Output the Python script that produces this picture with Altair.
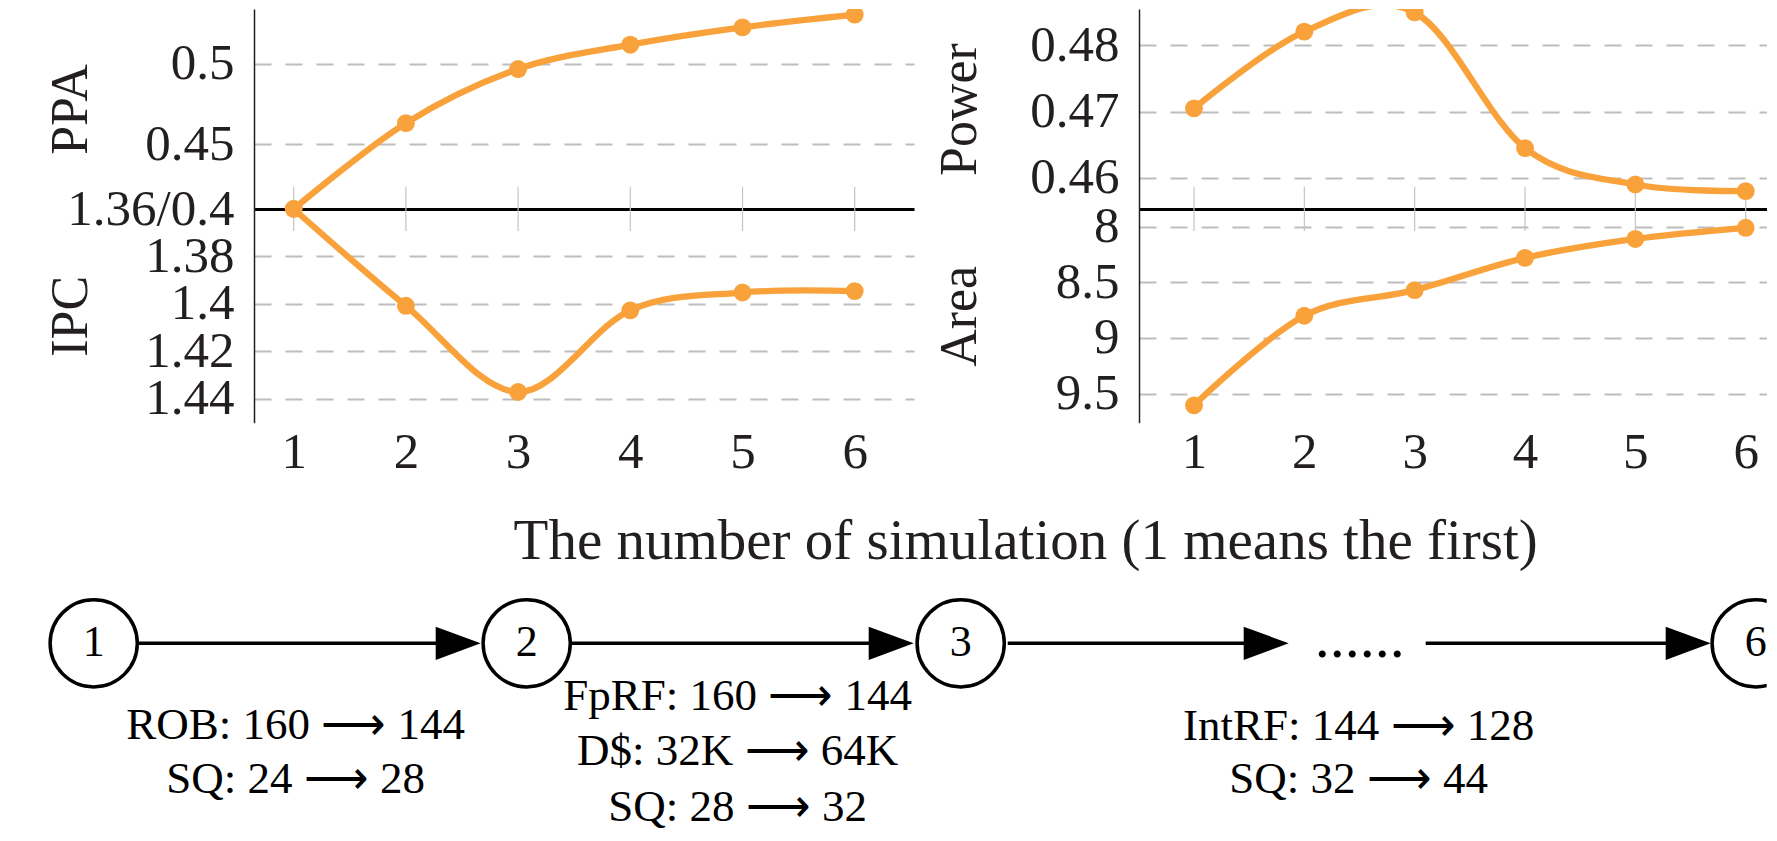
import altair as alt
import pandas as pd

# ---------------- data ----------------
simulation = [1, 2, 3, 4, 5, 6]
ppa = [0.410, 0.4632, 0.4967, 0.5118, 0.5225, 0.5304]
ipc = [1.360, 1.4008, 1.4371, 1.4027, 1.3952, 1.3946]
power = [0.4705, 0.4821, 0.4850, 0.4645, 0.4590, 0.4580]
area = [9.605, 8.80, 8.57, 8.28, 8.11, 8.01]

ppa_ticks = [0.45, 0.5]
ipc_ticks = [1.36, 1.38, 1.40, 1.42, 1.44]
power_ticks = [0.46, 0.47, 0.48]
area_ticks = [8, 8.5, 9, 9.5]

node_labels = ["1", "2", "3", "6"]
changes_1 = ["ROB: 160 ⟶ 144", "SQ: 24 ⟶ 28"]
changes_2 = ["FpRF: 160 ⟶ 144", "D$: 32K ⟶ 64K", "SQ: 28 ⟶ 32"]
changes_3 = ["IntRF: 144 ⟶ 128", "SQ: 32 ⟶ 44"]
x_title = "The number of simulation (1 means the first)"

# ---------------- layout / style ----------------
ORANGE = "#F9A23C"
FONT = "Liberation Serif"
TXT = "#231f20"
GRID = "#bdbdbd"

PAGE_TOP = 8            # plot tops start at the page margin
ZERO_Y = 208            # page y of the black zero line
BOTTOM_Y = 421.7        # page y of the lower axis end
DIAG_BOTTOM = 828
LEFT_PLOT_X = 253.3
LEFT_W = 660
RIGHT_PLOT_X = 1138.3
RIGHT_W = 1766 - RIGHT_PLOT_X
TOP_H = ZERO_Y - PAGE_TOP
BOT_H = BOTTOM_Y - ZERO_Y
DIAG_H = DIAG_BOTTOM - BOTTOM_Y


def panel(values, ticks, ydom, reverse, title, title_x, xdom, width, height,
          top, label_expr=None, grid_opacity=None, anchor=False):
    df = pd.DataFrame({"sim": simulation, "v": values})
    if top:
        xaxis = alt.Axis(orient="bottom", domain=True, domainColor="black",
                         domainWidth=3, labels=False, ticks=False, grid=False,
                         title=None)
    else:
        xaxis = alt.Axis(orient="bottom", domain=False, labels=True, ticks=False,
                         grid=False, title=None, values=simulation, format="d",
                         labelFont=FONT, labelFontSize=51, labelColor=TXT,
                         labelPadding=5, labelFlush=False)
    ykw = dict(values=ticks, format="~g", grid=True, gridDash=[17, 14],
               gridColor=GRID, gridWidth=2, domain=True, domainColor=TXT,
               domainWidth=1.5, ticks=False, labelPadding=20, labelFont=FONT,
               labelFontSize=51, labelColor=TXT, labelOverlap=False,
               labelFlush=False, title=title, titleFont=FONT, titleFontSize=52,
               titleFontWeight="normal", titleColor=TXT, titleX=title_x,
               titleBaseline="middle")
    if label_expr:
        ykw["labelExpr"] = label_expr
    if grid_opacity is not None:
        ykw["gridOpacity"] = grid_opacity
    xsc = alt.Scale(domain=xdom, nice=False, zero=False)
    xs = alt.X("sim:Q", scale=xsc, axis=xaxis)
    ys = alt.Y("v:Q", scale=alt.Scale(domain=ydom, nice=False, zero=False, reverse=reverse),
               axis=alt.Axis(**ykw))
    base = alt.Chart(df).encode(x=xs, y=ys)
    line = base.mark_line(interpolate="cardinal", color=ORANGE, strokeWidth=6.3, clip=top)
    pts = base.mark_circle(color=ORANGE, size=320, opacity=1, clip=top)
    layers = []
    if top:
        tick_rules = alt.Chart(df).mark_rule(color="#c4c4c4", strokeWidth=1.2).encode(
            x=alt.X("sim:Q", scale=xsc, axis=xaxis),
            y=alt.value(185.7 - PAGE_TOP), y2=alt.value(230 - PAGE_TOP))
        layers.append(tick_rules)
    layers += [line, pts]
    if anchor:
        anc = alt.Chart(df).mark_rule(color="white", strokeWidth=0.5).encode(
            x=alt.value(8 - LEFT_PLOT_X), x2=alt.value(9 - LEFT_PLOT_X),
            y=alt.value(0))
        layers.append(anc)
    return alt.layer(*layers).properties(width=width, height=height)


# x: simulation 1 -> page 293, 6 -> 854 (left); 1 -> 1193.3, 6 -> 1745 (right)
left_xdom = [1 - (293 - LEFT_PLOT_X) / 112.2, 6 + (LEFT_PLOT_X + LEFT_W - 854) / 112.2]
right_xdom = [1 - (1193.3 - RIGHT_PLOT_X) / 110.34, 6 + (RIGHT_PLOT_X + RIGHT_W - 1745) / 110.34]

ppa_chart = panel(ppa, ppa_ticks, [0.41, 0.41 + TOP_H / 1614], False, "PPA",
                  70 - LEFT_PLOT_X, left_xdom, LEFT_W, TOP_H, True, anchor=True)
ipc_chart = panel(ipc, ipc_ticks, [1.36, 1.36 + BOT_H / 2373], True, "IPC",
                  70 - LEFT_PLOT_X, left_xdom, LEFT_W, BOT_H, False,
                  label_expr="abs(datum.value - 1.36) < 1e-6 ? '1.36/0.4' : format(datum.value, '~g')",
                  grid_opacity=alt.condition("abs(datum.value - 1.36) < 1e-6",
                                             alt.value(0), alt.value(1)))
power_chart = panel(power, power_ticks, [0.4553, 0.4553 + TOP_H / 6620], False, "Power",
                    959 - RIGHT_PLOT_X, right_xdom, RIGHT_W, TOP_H, True)
area_chart = panel(area, area_ticks, [7.841, 7.841 + BOT_H / 111.3], True, "Area",
                   959 - RIGHT_PLOT_X, right_xdom, RIGHT_W, BOT_H, False)

# ---------------- flow diagram (coordinates in page units) ----------------
node_x = [93, 526, 960, 1755]
node_y = 642
arrow_from = [137, 571, 1007, 1425]
arrow_to = [480, 913, 1288, 1710]

note_text = changes_1 + changes_2 + changes_3
note_x = [295] * len(changes_1) + [737] * len(changes_2) + [1358] * len(changes_3)
note_y = [724, 778] + [695, 750, 806] + [725, 778]


def diagram_part(plot_x0, width, with_nodes, with_rest, clip):
    xsc = alt.Scale(domain=[plot_x0, plot_x0 + width], nice=False, zero=False)
    ysc = alt.Scale(domain=[BOTTOM_Y, DIAG_BOTTOM], nice=False, zero=False, reverse=True)

    def enc(ch):
        return ch.encode(x=alt.X("x:Q", scale=xsc, axis=None),
                         y=alt.Y("y:Q", scale=ysc, axis=None))

    nodes = pd.DataFrame({"label": [node_labels[i] for i in with_nodes],
                          "x": [node_x[i] for i in with_nodes],
                          "y": [node_y] * len(with_nodes)})
    layers = [
        enc(alt.Chart(nodes).mark_point(shape="circle", size=7600, filled=False,
                                        color="black", strokeWidth=3.5, opacity=1,
                                        clip=clip)),
        enc(alt.Chart(nodes).mark_text(font=FONT, fontSize=44, color="black",
                                       baseline="middle", align="center", clip=clip)
            ).encode(text="label:N"),
    ]
    if with_rest:
        arrows = pd.DataFrame({"x": arrow_from, "x2": [t - 30 for t in arrow_to],
                               "y": [node_y] * len(arrow_to)})
        heads = pd.DataFrame({"x": [t - 22.5 for t in arrow_to],
                              "y": [node_y] * len(arrow_to)})
        notes = pd.DataFrame({"t": note_text, "x": note_x, "y": note_y})
        title_df = pd.DataFrame({"t": [x_title], "x": [1025], "y": [558]})
        dots_df = pd.DataFrame({"t": ["......"], "x": [1359], "y": [656]})
        layers = [
            enc(alt.Chart(arrows).mark_rule(color="black", strokeWidth=3.5)).encode(x2="x2:Q"),
            enc(alt.Chart(heads).mark_point(shape="M-1,-0.74L1,0L-1,0.74Z", size=2025,
                                            filled=True, color="black", opacity=1)),
        ] + layers + [
            enc(alt.Chart(notes).mark_text(font=FONT, fontSize=45, color="black",
                                           baseline="middle", align="center")
                ).encode(text="t:N"),
            enc(alt.Chart(title_df).mark_text(font=FONT, fontSize=57, color=TXT,
                                              baseline="alphabetic", align="center")
                ).encode(text="t:N"),
            enc(alt.Chart(dots_df).mark_text(font=FONT, fontSize=60, color="black",
                                             baseline="alphabetic", align="center")
                ).encode(text="t:N"),
        ]
    return alt.layer(*layers).properties(width=width, height=DIAG_H)


diag_left = diagram_part(LEFT_PLOT_X, LEFT_W, [0, 1, 2], True, False)
diag_right = diagram_part(RIGHT_PLOT_X, RIGHT_W, [3], False, True)

chart = alt.concat(
    ppa_chart, power_chart, ipc_chart, area_chart, diag_left, diag_right,
    columns=2, spacing={"row": 0, "column": RIGHT_PLOT_X - LEFT_PLOT_X - LEFT_W},
    bounds="flush", align="each",
).properties(
    padding={"top": 0, "left": 0, "right": 0, "bottom": 0},
    background="white",
).configure_view(stroke=None)

chart.save("out.html", embed_options={"renderer": "svg", "actions": False})
